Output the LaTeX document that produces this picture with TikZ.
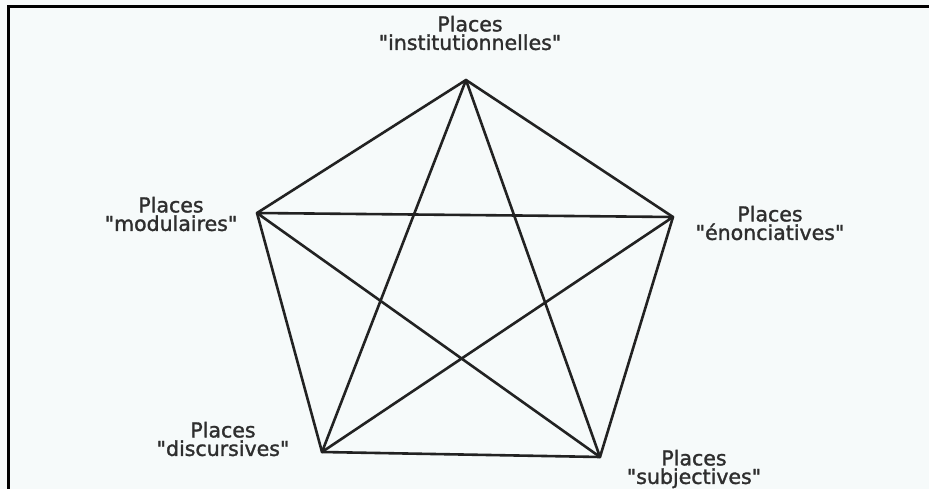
\documentclass[tikz,border=0pt]{standalone}
\usepackage{fontspec}
\setmainfont{DejaVu Sans}[Ligatures=NoCommon]
\newfontfamily\lblfont{DejaVu Sans}[FakeBold=1.5]
\definecolor{bgc}{HTML}{F6FAFA}
\definecolor{edgec}{HTML}{222222}
\definecolor{txtc}{HTML}{2E2E2E}
\newcommand{\qq}{\symbol{34}}
\begin{document}
\begin{tikzpicture}[x=1pt,y=-1pt,
  edge/.style={draw=edgec,line width=2.6pt,line join=round,line cap=round},
  lbl/.style={text=txtc,align=center,inner sep=0pt,font=\lblfont\fontsize{20.5}{18.5}\selectfont}]
\fill[bgc] (0,0) rectangle (929,489);
\useasboundingbox (0,0) rectangle (929,489);
\draw[black,line width=3pt] (8,489) -- (8,7) -- (929,7);
% vertices
\coordinate (T) at (466,80);
\coordinate (L) at (257,213);
\coordinate (R) at (673,217);
\coordinate (BL) at (322,452);
\coordinate (BR) at (600,457);
% pentagon and star
\draw[edge] (T) -- (R) -- (BR) -- (BL) -- (L) -- cycle;
\draw[edge] (T) -- (BL) -- (R) -- (L) -- (BR) -- cycle;
% labels
\node[lbl] (tl) at (470,33) {Places\\\qq institutionnelles\qq};
\node[lbl] (ll) at (171,214) {Places\\\qq modulaires\qq};
\node[lbl] (rl) at (770,223) {Places\\\qq énonciatives\qq};
\node[lbl] (bll) at (223,439) {Places\\\qq discursives\qq};
\node[lbl] (brl) at (694,469) {Places\\\qq subjectives\qq};
\end{tikzpicture}
\end{document}
